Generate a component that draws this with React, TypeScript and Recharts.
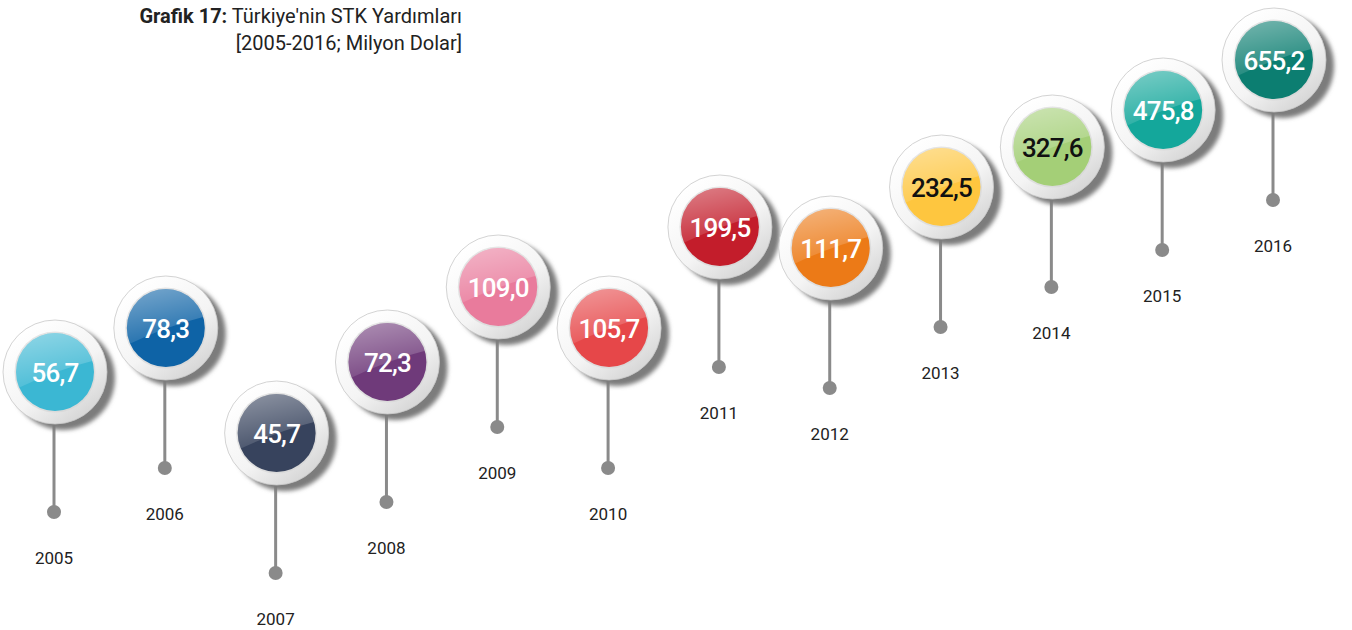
import React from "react";
import { ScatterChart, Scatter, XAxis, YAxis } from "recharts";

const years = [2005, 2006, 2007, 2008, 2009, 2010, 2011, 2012, 2013, 2014, 2015, 2016];
const values = [56.7, 78.3, 45.7, 72.3, 109.0, 105.7, 199.5, 111.7, 232.5, 327.6, 475.8, 655.2];
// height of each pin's base above the bottom of the picture
const pinLevels = [118, 162, 57, 128, 203, 162, 263, 242, 303, 343, 380, 430];
const colors = [
  "#3bb7d3", "#0e63a6", "#37435d", "#6f3a7a", "#e97b9c", "#e64749",
  "#c31d2b", "#ec7a17", "#fec63f", "#a4cf77", "#14a79b", "#0c7e71",
];
const textColors = [
  "#ffffff", "#ffffff", "#ffffff", "#ffffff", "#ffffff", "#ffffff",
  "#ffffff", "#ffffff", "#111111", "#111111", "#ffffff", "#ffffff",
];

const data = years.map((y, i) => ({
  year: y,
  level: pinLevels[i],
  value: values[i],
  color: colors[i],
  textColor: textColors[i],
  idx: i,
}));

const fmt = (v: number) => v.toFixed(1).replace(".", ",");

const Pin = (props: any) => {
  const { cx, cy, payload } = props;
  if (cx == null || cy == null) return null;
  const ccx = cx + 1;
  const ccy = cy - 140;
  const R = 52;
  const r = 39;
  const id = `g${payload.idx}`;
  return (
    <g>
      <line x1={cx} y1={cy} x2={cx} y2={ccy + R - 4} stroke="#8a8a8a" strokeWidth={3} />
      <circle cx={cx} cy={cy} r={7} fill="#8a8a8a" />
      <circle cx={ccx + 8} cy={ccy + 6} r={R} fill="#7c7c7c" filter="url(#pinShadow)" />
      <circle cx={ccx} cy={ccy} r={R} fill="url(#ringGrad)" stroke="#c8c8c8" strokeWidth={0.8} />
      <circle cx={ccx} cy={ccy} r={r + 1.5} fill="#d4d4d4" opacity={0.6} />
      <circle cx={ccx} cy={ccy} r={r} fill={payload.color} />
      <clipPath id={`clip${id}`}>
        <circle cx={ccx} cy={ccy} r={r} />
      </clipPath>
      <g clipPath={`url(#clip${id})`}>
        <path
          d={`M ${ccx - r - 2} ${ccy - r - 2} L ${ccx + r + 2} ${ccy - r - 2} L ${ccx + r + 2} ${ccy - 12} Q ${ccx} ${ccy - 2} ${ccx - r - 2} ${ccy + 18} Z`}
          fill="url(#glossGrad)"
        />
      </g>
      <text
        x={ccx}
        y={ccy + 1}
        textAnchor="middle"
        dominantBaseline="central"
        fill={payload.textColor}
        fontFamily="Roboto, sans-serif"
        fontWeight={500}
        fontSize={26}
        letterSpacing={-0.8}
      >
        {fmt(payload.value)}
      </text>
      <text
        x={cx}
        y={cy + 46}
        textAnchor="middle"
        dominantBaseline="central"
        fill="#222222"
        fontFamily="Roboto, sans-serif"
        fontSize={17}
      >
        {payload.year}
      </text>
    </g>
  );
};

export default function App() {
  return (
    <div
      style={{
        position: "absolute",
        left: 0,
        top: 0,
        width: 1352,
        height: 630,
        background: "#ffffff",
        overflow: "hidden",
      }}
    >
      <svg width={0} height={0} style={{ position: "absolute" }}>
        <defs>
          <linearGradient id="ringGrad" x1="0.2" y1="0.1" x2="0.85" y2="0.95">
            <stop offset="0%" stopColor="#ffffff" />
            <stop offset="55%" stopColor="#f4f4f4" />
            <stop offset="100%" stopColor="#d2d2d2" />
          </linearGradient>
          <linearGradient id="glossGrad" x1="0" y1="0" x2="0.3" y2="1">
            <stop offset="0%" stopColor="#ffffff" stopOpacity={0.45} />
            <stop offset="100%" stopColor="#ffffff" stopOpacity={0.08} />
          </linearGradient>
          <filter id="pinShadow" x="-30%" y="-30%" width="160%" height="160%">
            <feGaussianBlur stdDeviation="2" />
          </filter>
        </defs>
      </svg>
      <div
        style={{
          position: "absolute",
          left: 0,
          top: 3,
          width: 462,
          textAlign: "right",
          fontFamily: "Roboto, sans-serif",
          fontSize: 20,
          lineHeight: "27px",
          color: "#222",
        }}
      >
        <div>
          <span style={{ fontWeight: 700 }}>Grafik 17:</span> Türkiye'nin STK Yardımları
        </div>
        <div>[2005-2016; Milyon Dolar]</div>
      </div>
      <div style={{ position: "absolute", left: 0, top: 0 }}>
        <ScatterChart width={1352} height={630} margin={{ top: 0, right: 79, bottom: 0, left: 54 }}>
          <XAxis type="number" dataKey="year" domain={[2005, 2016]} hide />
          <YAxis type="number" dataKey="level" domain={[0, 630]} hide />
          <Scatter data={data} shape={Pin} isAnimationActive={false} />
        </ScatterChart>
      </div>
    </div>
  );
}
